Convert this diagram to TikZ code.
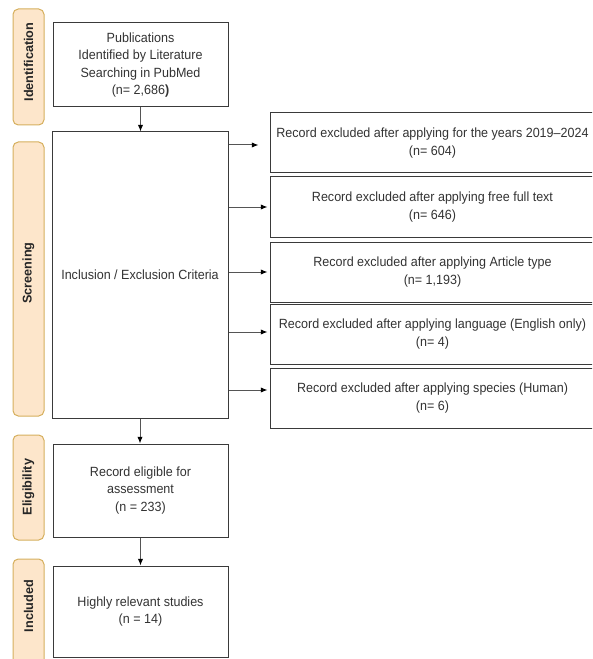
\documentclass[tikz,border=0pt]{standalone}
\usepackage{fontspec}
\setmainfont{Liberation Sans}[FakeStretch=0.94]
\newfontfamily\lblfont{Liberation Sans}
\usetikzlibrary{arrows.meta,calc}
\definecolor{txt}{HTML}{333333}
\definecolor{bord}{HTML}{3A3A3A}
\definecolor{lblfill}{HTML}{FDE6CB}
\definecolor{lbldraw}{HTML}{D6B05E}
\definecolor{conn}{HTML}{555555}
\begin{document}
\begin{tikzpicture}[x=0.75pt,y=-0.75pt,
 box/.style={draw=bord, line width=0.75pt, fill=white, text=txt, align=center, inner sep=0pt, font=\fontsize{10}{13}\selectfont},
 lbl/.style={draw=lbldraw, fill=lblfill, rounded corners=4pt, line width=0.75pt, minimum width=23.25pt, inner sep=0pt},
 lbltxt/.style={rotate=90, font=\lblfont\bfseries\fontsize{9.5}{11}\selectfont, text=black!85, inner sep=0pt},
 arr/.style={draw=conn, line width=0.75pt, -{Latex[length=5pt,width=4pt,black]}}]
\useasboundingbox (0,0) rectangle (592,659);
\clip (0,0) rectangle (592,659);
\fill[white] (0,0) rectangle (592,659);

% stage labels
\node[lbl, minimum height=87pt] (Lid) at (28.5,67) {};
\node[lbltxt] (Tid) at (28.5,62) {Identification};
\node[lbl, minimum height=205.5pt] (Lscr) at (28.5,279) {};
\node[lbltxt] (Tscr) at (28.5,273) {Screening};
\node[lbl, minimum height=78.75pt] (Lel) at (28.5,487.5) {};
\node[lbltxt] (Tel) at (28.5,487) {Eligibility};
\node[lbl, minimum height=84.75pt] (Linc) at (28.5,615.5) {};
\node[lbltxt] (Tinc) at (28.5,606) {Included};

% main boxes
\node[box, minimum width=131.25pt, minimum height=63pt] (pub) at (140.5,65)
  {Publications\\Identified by Literature\\Searching in PubMed\\(n= 2,686{\bfseries )}};
\node[box, minimum width=132pt, minimum height=214.5pt] (scr) at (140,275)
  {Inclusion / Exclusion Criteria};
\node[box, minimum width=131.25pt, minimum height=69.75pt] (elig) at (140.5,490.5)
  {Record eligible for\\assessment\\(n = 233)};
\node[box, minimum width=131.25pt, minimum height=68.25pt] (incl) at (140.5,611.5)
  {Highly relevant studies\\(n = 14)};

% exclusion boxes
\node[box, minimum width=243.75pt, minimum height=45pt] (r1) at (432.5,143)
  {Record excluded after applying for the years 2019–2024\\(n= 604)};
\node[box, minimum width=243.75pt, minimum height=45pt] (r2) at (432.5,207)
  {Record excluded after applying free full text\\(n= 646)};
\node[box, minimum width=243.75pt, minimum height=45pt] (r3) at (432.5,272)
  {Record excluded after applying Article type\\(n= 1,193)};
\node[box, minimum width=243.75pt, minimum height=45pt] (r4) at (432.5,334)
  {Record excluded after applying language (English only)\\(n= 4)};
\node[box, minimum width=243.75pt, minimum height=45pt] (r5) at (432.5,398)
  {Record excluded after applying species (Human)\\(n= 6)};

% connectors
\draw[arr] (pub.south) -- (pub.south |- scr.north);
\draw[arr] (scr.south) -- (scr.south |- elig.north);
\draw[arr] (elig.south) -- (elig.south |- incl.north);
\draw[arr] ($(scr.east |- r1.west)+(0,2)$) -- ($(r1.west)+(-11,2)$);
\draw[arr] (scr.east |- r2.west) -- ($(r2.west)+(-2,0)$);
\draw[arr] (scr.east |- r3.west) -- ($(r3.west)+(-2,0)$);
\draw[arr] ($(scr.east |- r4.west)+(0,-2)$) -- ($(r4.west)+(-2,-2)$);
\draw[arr] ($(scr.east |- r5.west)+(0,-8)$) -- ($(r5.west)+(-2,-8)$);
\end{tikzpicture}
\end{document}
